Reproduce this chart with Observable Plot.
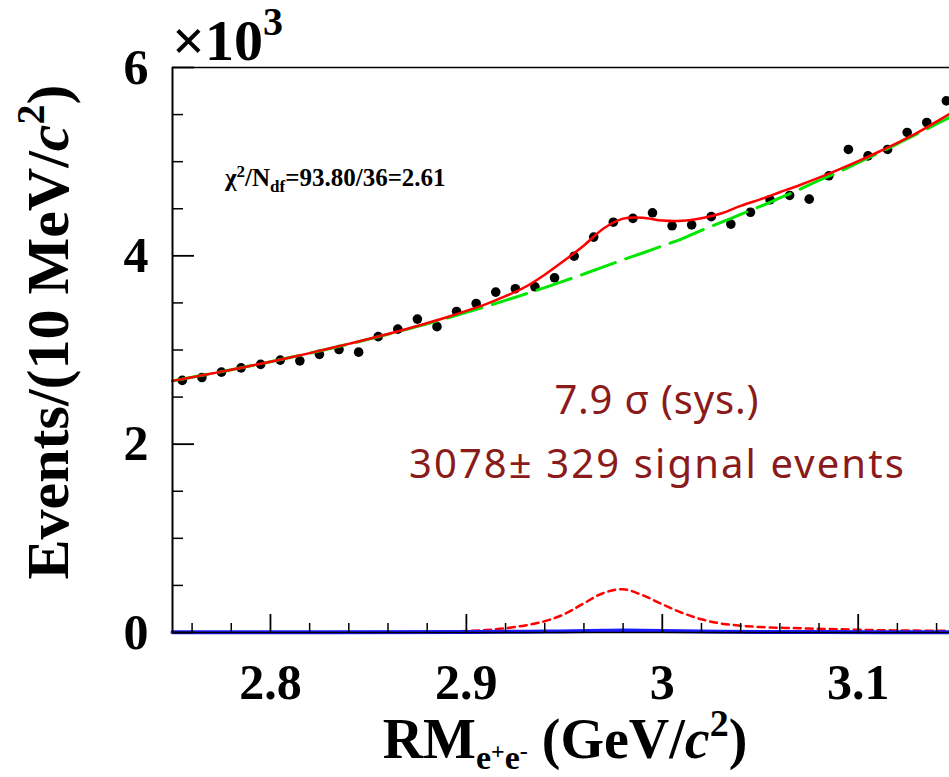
<!DOCTYPE html>
<html>
<head>
<meta charset="utf-8">
<script src="https://cdn.jsdelivr.net/npm/d3@7"></script>
<script src="https://cdn.jsdelivr.net/npm/@observablehq/plot@0.6"></script>
<style>
  html, body { margin: 0; padding: 0; background: #fff; }
  #chart { width: 949px; height: 777px; overflow: hidden; }
</style>
</head>
<body>
<div id="chart"></div>
<script>
// Recoil mass of e+e- : data (10 MeV bins) and fit components
const massBins = [2.755, 2.765, 2.775, 2.785, 2.795, 2.805, 2.815, 2.825, 2.835, 2.845,
                  2.855, 2.865, 2.875, 2.885, 2.895, 2.905, 2.915, 2.925, 2.935, 2.945,
                  2.955, 2.965, 2.975, 2.985, 2.995, 3.005, 3.015, 3.025, 3.035, 3.045,
                  3.055, 3.065, 3.075, 3.085, 3.095, 3.105, 3.115, 3.125, 3.135, 3.145];
const eventCounts = [2677, 2708, 2765, 2810, 2847, 2893, 2885, 2954, 3005, 2977,
                     3142, 3222, 3328, 3248, 3409, 3494, 3615, 3651, 3671, 3767,
                     3996, 4199, 4357, 4398, 4457, 4319, 4329, 4416, 4337, 4463,
                     4595, 4641, 4602, 4850, 5130, 5062, 5130, 5310, 5416, 5646];

// fit curves sampled every 10 MeV
const curveMass = [2.75, 2.76, 2.77, 2.78, 2.79, 2.80, 2.81, 2.82, 2.83, 2.84,
                   2.85, 2.86, 2.87, 2.88, 2.89, 2.90, 2.91, 2.92, 2.93, 2.94,
                   2.95, 2.96, 2.97, 2.98, 2.99, 3.00, 3.01, 3.02, 3.03, 3.04,
                   3.05, 3.06, 3.07, 3.08, 3.09, 3.10, 3.11, 3.12, 3.13, 3.14, 3.15];
const totalFit = [2672, 2711, 2750, 2790, 2833, 2876, 2921, 2967, 3015, 3065,
                  3116, 3170, 3226, 3286, 3348, 3415, 3488, 3572, 3669, 3800,
                  3950, 4110, 4290, 4395, 4405, 4375, 4372, 4400, 4450, 4530,
                  4600, 4675, 4750, 4830, 4915, 5005, 5100, 5200, 5305, 5425, 5550];
const backgroundFit = [2672, 2711, 2750, 2790, 2832, 2875, 2920, 2966, 3014, 3063,
                       3114, 3167, 3222, 3279, 3338, 3399, 3462, 3527, 3594, 3663,
                       3734, 3807, 3882, 3959, 4030, 4105, 4180, 4270, 4355, 4440,
                       4525, 4615, 4705, 4800, 4890, 4990, 5090, 5190, 5295, 5400, 5505];

// signal shape
const signalMass = [2.86, 2.87, 2.89, 2.90, 2.91, 2.92, 2.93, 2.94, 2.95, 2.96, 2.97, 2.98,
                    2.99, 3.00, 3.01, 3.02, 3.03, 3.04, 3.05, 3.07, 3.09, 3.11, 3.13, 3.15];
const signalFit = [2, 4, 10, 16, 26, 45, 75, 120, 195, 310, 420, 460,
                   395, 300, 210, 140, 95, 72, 58, 45, 34, 25, 20, 17];

// peaking background component
const peakMass = [2.75, 2.90, 2.94, 2.97, 2.98, 3.00, 3.03, 3.08, 3.15];
const peakFit = [3, 5, 10, 18, 20, 16, 8, 4, 3];

// axis ticks
const xMajor = [2.8, 2.9, 3.0, 3.1];
const xMinor = [2.76, 2.78, 2.82, 2.84, 2.86, 2.88, 2.92, 2.94, 2.96, 2.98,
                3.02, 3.04, 3.06, 3.08, 3.12, 3.14];
const yMajor = [0, 2000, 4000, 6000];
const yMinor = [500, 1000, 1500, 2500, 3000, 3500, 4500, 5000, 5500];

const sigText = "7.9 σ (sys.)";
const evtText = "3078± 329 signal events";

const points = massBins.map((m, i) => ({m, n: eventCounts[i]}));
const total = curveMass.map((m, i) => ({m, n: totalFit[i]}));
const bkg = curveMass.map((m, i) => ({m, n: backgroundFit[i]}));
const sig = signalMass.map((m, i) => ({m, n: signalFit[i]}));
const peak = peakMass.map((m, i) => ({m, n: peakFit[i]}));

const W = 949, H = 777, mL = 172, mR = 0, mT = 67, mB = 145;
const plotW = W - mL - mR, plotH = H - mT - mB;
const serif = "'Liberation Serif', 'Times New Roman', serif";

const svg = Plot.plot({
  width: W, height: H,
  marginLeft: mL, marginRight: mR, marginTop: mT, marginBottom: mB,
  x: {domain: [2.75, 3.1466], label: null},
  y: {domain: [0, 6000], label: null},
  style: {background: "white", overflow: "visible"},
  marks: [
    Plot.dot(points, {x: "m", y: "n", r: 4.8, fill: "black", stroke: "none"}),
    Plot.line(bkg, {x: "m", y: "n", stroke: "#00e600", strokeWidth: 3,
                    strokeDasharray: "36,11", curve: "catmull-rom"}),
    Plot.line(total, {x: "m", y: "n", stroke: "#ff0000", strokeWidth: 2.5, curve: "catmull-rom"}),
    Plot.line(sig, {x: "m", y: "n", stroke: "#ff0000", strokeWidth: 2.5,
                    strokeDasharray: "7,5", curve: "catmull-rom"}),
    Plot.line(peak, {x: "m", y: "n", stroke: "#1a1aff", strokeWidth: 4, curve: "catmull-rom"}),
    // frame lines
    Plot.ruleY([0], {stroke: "black", strokeWidth: 1.6}),
    Plot.ruleY([6000], {stroke: "black", strokeWidth: 1.6}),
    Plot.ruleX([2.75], {stroke: "black", strokeWidth: 2}),
    // inward ticks
    Plot.tickX(xMajor, {x: d => d, insetTop: plotH - 18, stroke: "black", strokeWidth: 1.8}),
    Plot.tickX(xMinor, {x: d => d, insetTop: plotH - 9, stroke: "black", strokeWidth: 1.5}),
    Plot.tickY(yMajor, {y: d => d, insetRight: plotW - 22, stroke: "black", strokeWidth: 1.8}),
    Plot.tickY(yMinor, {y: d => d, insetRight: plotW - 11, stroke: "black", strokeWidth: 1.5}),
    // tick labels
    Plot.axisX({ticks: xMajor, tickSize: 0, tickPadding: 31,
                tickFormat: d => String(+d.toFixed(1)),
                fontSize: 50, fontWeight: "bold", fontFamily: serif}),
    Plot.axisY({ticks: yMajor, tickSize: 0, tickPadding: 24,
                tickFormat: d => String(d / 1000),
                fontSize: 50, fontWeight: "bold", fontFamily: serif}),
    // annotations
    Plot.text([sigText], {x: 2.997, y: 2460, text: d => d, fill: "#8b1a1a",
                          fontSize: 40, fontFamily: "'Noto Sans', sans-serif"}),
    Plot.text([evtText], {x: 2.997, y: 1780, text: d => d, fill: "#8b1a1a",
                          fontSize: 40, fontFamily: "'Noto Sans', sans-serif"})
  ]
});

document.getElementById("chart").appendChild(svg);

const s = d3.select(svg);
s.selectAll("text").each(function () {
  const t = this.textContent;
  if (t === sigText) { this.setAttribute("textLength", 204); this.setAttribute("lengthAdjust", "spacing"); }
  if (t === evtText) { this.setAttribute("textLength", 495); this.setAttribute("lengthAdjust", "spacing"); }
});

const g = s.append("g").attr("font-family", serif).attr("font-weight", "bold").attr("fill", "black");

// ×10^3 exponent
const ex = g.append("text").attr("transform", "translate(172,60)")
  .attr("text-anchor", "start").attr("font-size", 58);
ex.append("tspan").text("×10");
ex.append("tspan").attr("font-size", 40).attr("dy", -25).text("3");

// y axis title
const yt = g.append("text").attr("transform", "translate(68,332) rotate(-90)")
  .attr("text-anchor", "middle").attr("font-size", 60);
yt.append("tspan").text("Events/(10 MeV/");
yt.append("tspan").attr("font-style", "italic").text("c");
yt.append("tspan").attr("font-size", 40).attr("dy", -24).text("2");
yt.append("tspan").attr("dy", 24).text(")");

// x axis title
const xt = g.append("text").attr("transform", "translate(565,758)")
  .attr("text-anchor", "middle").attr("font-size", 56);
xt.append("tspan").text("RM");
xt.append("tspan").attr("font-size", 34).attr("dy", 11).text("e");
xt.append("tspan").attr("font-size", 24).attr("dy", -10).text("+");
xt.append("tspan").attr("font-size", 34).attr("dy", 10).text("e");
xt.append("tspan").attr("font-size", 24).attr("dy", -10).text("-");
xt.append("tspan").attr("dy", -1).text(" (GeV/");
xt.append("tspan").attr("font-style", "italic").text("c");
xt.append("tspan").attr("font-size", 38).attr("dy", -22).text("2");
xt.append("tspan").attr("dy", 22).text(")");

// fit quality
const ft = g.append("text").attr("transform", "translate(225,186)")
  .attr("text-anchor", "start").attr("font-size", 25);
ft.append("tspan").text("χ");
ft.append("tspan").attr("font-size", 17).attr("dy", -9).text("2");
ft.append("tspan").attr("dy", 9).text("/N");
ft.append("tspan").attr("font-size", 17).attr("dy", 6).text("df");
ft.append("tspan").attr("dy", -6).text("=93.80/36=2.61");
</script>
</body>
</html>
